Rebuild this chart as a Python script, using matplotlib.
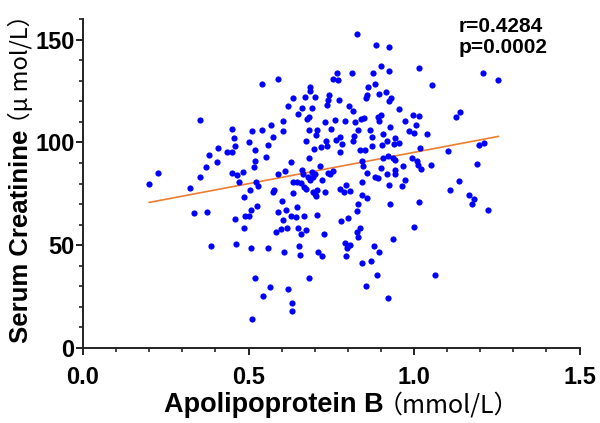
import numpy as np
import matplotlib
matplotlib.use('Agg')
import matplotlib.pyplot as plt
from matplotlib.ticker import MultipleLocator

# data (apoB in mmol/L, creatinine in umol/L)
apob = [
    0.542, 0.353, 0.449, 0.511, 0.542,
    0.456, 0.502, 0.459, 0.407, 0.520, 0.434, 0.450, 0.382, 0.404, 0.520,
    0.371, 0.517, 0.227, 0.449, 0.464, 0.482, 0.353, 0.200, 0.471, 0.522,
    0.528, 0.323, 0.505, 0.487, 0.527, 0.507, 0.335, 0.374, 0.490, 0.501,
    0.459, 0.486,
    0.386, 0.463, 0.507, 0.520, 0.545, 0.511,
    0.828, 0.886, 0.899, 0.768, 0.814, 0.875, 0.590, 0.755, 0.770, 0.881,
    0.687, 0.861, 0.686, 0.744, 0.893, 0.858, 0.634, 0.671, 0.701, 0.854,
    0.741, 0.774, 0.736, 0.618, 0.663, 0.693, 0.804, 0.815, 0.650, 0.683,
    0.676, 0.840, 0.849, 0.891, 0.899, 0.895, 0.567, 0.603, 0.732, 0.762,
    0.792, 0.822, 0.603, 0.683, 0.706, 0.749, 0.830, 0.867,
    0.575, 0.703, 0.559, 0.553, 0.673, 0.718, 0.698, 0.734, 0.738, 0.764,
    0.776, 0.782, 0.815, 0.820, 0.872, 0.902, 0.837, 0.852, 0.874, 0.776,
    0.684, 0.627, 0.716, 0.842, 0.847, 0.899, 0.859, 0.590, 0.610, 0.661,
    0.666, 0.691, 0.701, 0.741, 0.754, 0.746, 0.679, 0.694, 0.686, 0.647,
    0.634, 0.658, 0.669, 0.674, 0.721, 0.882, 0.892, 0.842, 0.577, 0.573,
    0.634, 0.694, 0.701, 0.708, 0.704, 0.731, 0.776, 0.795, 0.789, 0.807,
    0.842, 0.857, 0.832, 0.602, 0.647, 0.588, 0.613, 0.827, 0.605, 0.627,
    0.643, 0.669, 0.708, 0.779, 0.800, 0.583, 0.597, 0.615, 0.650, 0.673,
    0.658, 0.728, 0.837, 0.827, 0.832,
    0.559, 0.607, 0.653, 0.656, 0.711, 0.721, 0.792, 0.807, 0.797, 0.795,
    0.879, 0.895, 0.842, 0.870, 0.889, 0.684, 0.855, 0.565, 0.619, 0.632,
    0.631,
    0.925, 0.925, 1.015, 1.209, 1.255, 1.055, 0.915, 0.930, 0.924, 0.955,
    0.996, 1.015, 1.139, 1.127, 0.973, 1.005, 0.927, 0.986, 1.000, 1.038,
    0.905, 0.943, 0.918, 0.940, 0.955, 1.018, 1.102, 1.196, 1.212, 0.907,
    0.922, 0.936, 0.943, 0.993, 1.008, 1.013, 1.020, 1.050, 0.968, 1.189,
    0.918, 0.943, 0.943, 0.973, 0.925, 0.965, 1.135, 1.110, 1.167, 1.182,
    1.176, 0.927, 1.016, 1.224, 1.001, 0.937,
    1.064, 0.922,
]
creat = [
    128.4, 110.9, 106.7, 105.4, 106.0,
    102.1, 100.2, 98.4, 97.3, 96.1, 95.5, 95.1, 93.9, 90.5, 90.7,
    88.2, 88.0, 84.9, 85.1, 83.9, 85.4, 83.3, 79.9, 80.5, 80.7,
    78.9, 77.8, 77.0, 73.4, 69.3, 66.9, 65.6, 65.9, 64.3, 64.3,
    62.8, 58.3,
    49.5, 50.7, 48.7, 34.2, 25.5, 14.1,
    152.5, 147.3, 137.0, 133.6, 133.5, 133.5, 130.7, 131.0, 130.5, 128.4,
    127.1, 126.8, 124.8, 123.1, 123.4, 123.2, 121.6, 122.1, 121.9, 121.6,
    120.7, 120.8, 118.4, 117.5, 116.6, 116.6, 117.9, 115.4, 113.6, 112.4,
    111.4, 111.5, 111.9, 112.5, 113.5, 110.2, 108.6, 110.6, 110.1, 110.9,
    110.6, 109.9, 105.7, 106.0, 106.0, 106.7, 106.2, 106.0,
    102.6, 103.4, 98.9, 92.9, 100.5, 97.8, 96.8, 100.5, 98.4, 101.3,
    102.6, 99.4, 100.5, 103.3, 102.6, 98.9, 96.1, 96.4, 98.1, 95.1,
    92.4, 90.6, 88.7, 90.7, 88.7, 87.5, 85.1, 84.6, 85.9, 86.4,
    84.8, 85.4, 84.8, 85.1, 86.2, 84.8, 83.1, 83.0, 81.8, 80.9,
    80.9, 80.2, 78.3, 77.4, 81.8, 83.4, 82.7, 80.5, 77.0, 76.1,
    75.4, 75.8, 75.0, 76.6, 73.7, 76.1, 77.3, 79.4, 76.1, 76.5,
    74.5, 72.9, 70.1, 71.6, 68.8, 66.1, 67.2, 66.4, 62.3, 64.3,
    63.7, 64.3, 64.8, 61.9, 63.2, 56.2, 57.8, 58.6, 58.3, 57.5,
    55.4, 55.5, 58.6, 56.2, 53.9,
    48.4, 46.6, 49.7, 45.3, 46.9, 44.8, 51.0, 50.2, 48.6, 44.8,
    49.7, 46.6, 41.3, 42.4, 35.6, 34.2, 30.2, 29.6, 28.6, 22.1,
    18.0,
    146.6, 134.6, 136.0, 133.8, 130.1, 128.0, 124.6, 121.6, 120.3, 116.4,
    113.5, 113.0, 114.8, 112.4, 110.6, 108.6, 107.3, 105.4, 104.6, 104.1,
    104.2, 102.1, 100.5, 99.4, 99.7, 97.3, 95.6, 98.5, 99.7, 92.4,
    93.2, 92.4, 91.2, 92.4, 90.7, 89.1, 87.2, 89.1, 88.3, 89.6,
    84.8, 86.7, 84.8, 81.8, 79.4, 78.9, 81.0, 76.6, 74.2, 72.6,
    70.1, 70.1, 71.0, 66.9, 58.8, 52.9,
    35.4, 24.2,
]

# regression line as drawn
fit_x = [0.20, 1.255]
fit_y = [70.8, 102.9]

xticks = [0.0, 0.5, 1.0, 1.5]
xticklabels = ['0.0', '0.5', '1.0', '1.5']
yticks = [0, 50, 100, 150]

bold_font = 'Liberation Sans'
cjk_font = ['Noto Sans CJK SC', 'DejaVu Sans']

W, H = 600, 423
fig = plt.figure(figsize=(W / 100, H / 100), dpi=100)
ax = fig.add_axes([83 / W, 1 - 348 / H, 496.5 / W, 329 / H])

ax.scatter(apob, creat, s=20, color='#0000ff', linewidths=0, zorder=3)
ax.plot(fit_x, fit_y, color='#ED7D31', lw=1.2, zorder=2)

ax.set_xlim(0, 1.5)
ax.set_ylim(0, 160)
ax.set_xticks(xticks)
ax.set_xticklabels(xticklabels)
ax.set_yticks(yticks)
ax.xaxis.set_minor_locator(MultipleLocator(0.1))
ax.yaxis.set_minor_locator(MultipleLocator(10))

for s in ['top', 'right']:
    ax.spines[s].set_visible(False)
for s in ['left', 'bottom']:
    ax.spines[s].set_linewidth(1.4)
    ax.spines[s].set_color('#222222')

ax.tick_params(which='major', length=5, width=1.4, color='#222222')
ax.tick_params(which='minor', length=3, width=1.2, color='#222222')
ax.tick_params(axis='x', which='major', pad=8)
ax.tick_params(axis='y', which='major', pad=1)
for lab in ax.get_xticklabels() + ax.get_yticklabels():
    lab.set_fontfamily(bold_font)
    lab.set_fontweight('bold')
    lab.set_fontsize(17)

ax.text(1.135, 161, 'r=0.4284\np=0.0002', fontsize=15, fontweight='bold',
        family=bold_font, ha='left', va='top', linespacing=1.12)

# two-part axis labels: bold name + regular unit
fig.canvas.draw()
rend = fig.canvas.get_renderer()
tuck = 6  # fullwidth paren carries its own left space

t1 = fig.text(0, 0, 'Apolipoprotein B', fontsize=19.5, fontweight='bold',
              family=bold_font, ha='left', va='baseline')
t2 = fig.text(0, 0, '（mmol/L）', fontsize=18, family=cjk_font,
              ha='left', va='baseline')
w1 = t1.get_window_extent(rend).width
w2 = t2.get_window_extent(rend).width
x0 = 342 - (w1 + w2 - tuck) / 2
t1.set_position((x0 / W, 1 - 412 / H))
t2.set_position(((x0 + w1 - tuck) / W, 1 - 412 / H))

u1 = fig.text(0, 0, 'Serum Creatinine', fontsize=18.5, fontweight='bold',
              family=bold_font, rotation=90, rotation_mode='anchor',
              ha='left', va='baseline')
u2 = fig.text(0, 0, '（μ mol/L）', fontsize=17, family=cjk_font,
              rotation=90, rotation_mode='anchor', ha='left', va='baseline')
h1 = u1.get_window_extent(rend).height
h2 = u2.get_window_extent(rend).height
y0 = (H - 173) - (h1 + h2 - tuck) / 2
u1.set_position((28 / W, y0 / H))
u2.set_position((28 / W, (y0 + h1 - tuck) / H))

fig.savefig('out.png', dpi=100)
